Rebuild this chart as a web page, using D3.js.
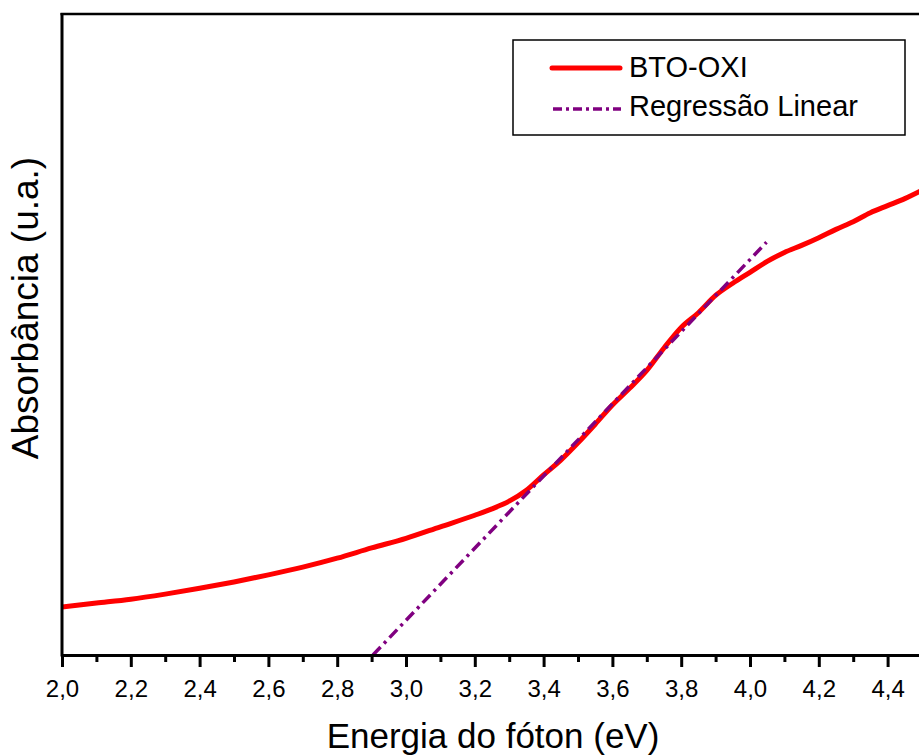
<!DOCTYPE html>
<html>
<head>
<meta charset="utf-8">
<script src="https://cdn.jsdelivr.net/npm/d3@7"></script>
<style>
  body { margin: 0; background: #fff; }
  svg { display: block; font-family: "Liberation Sans", Arial, sans-serif; }
</style>
</head>
<body>
<div id="chart"></div>
<script>
// photon energy (eV) and absorbance (a.u.)
var energy = [2.00, 2.10, 2.20, 2.30, 2.40, 2.50, 2.60, 2.70, 2.80, 2.90,
              3.00, 3.10, 3.20, 3.25, 3.30, 3.35, 3.40, 3.45, 3.50, 3.55,
              3.60, 3.65, 3.70, 3.75, 3.80, 3.85, 3.90, 3.95, 4.00, 4.05,
              4.10, 4.15, 4.20, 4.25, 4.30, 4.35, 4.40, 4.45, 4.50];
var absorb = [0.075, 0.081, 0.087, 0.095, 0.104, 0.114, 0.125, 0.137, 0.151, 0.167,
              0.182, 0.200, 0.218, 0.228, 0.240, 0.257, 0.281, 0.304, 0.331, 0.360,
              0.390, 0.416, 0.444, 0.479, 0.511, 0.534, 0.561, 0.580, 0.597, 0.614,
              0.628, 0.639, 0.651, 0.664, 0.676, 0.690, 0.701, 0.712, 0.725];

// linear fit endpoints
var fitX = [2.904, 4.048];
var fitY = [0.000, 0.644];

var xTicks = [2.0, 2.2, 2.4, 2.6, 2.8, 3.0, 3.2, 3.4, 3.6, 3.8, 4.0, 4.2, 4.4];
var xMinor = [2.1, 2.3, 2.5, 2.7, 2.9, 3.1, 3.3, 3.5, 3.7, 3.9, 4.1, 4.3];

var legendNames = ["BTO-OXI", "Regressão Linear"];

var W = 919, H = 756;
var margin = {top: 14, left: 62, bottom: 101};

var svg = d3.select("#chart").append("svg")
    .attr("width", W)
    .attr("height", H);

var x = d3.scaleLinear().domain([2.0, 4.5]).range([margin.left, 922]);
var y = d3.scaleLinear().domain([0, 1]).range([H - margin.bottom, margin.top]);

svg.append("clipPath").attr("id", "clip")
  .append("rect")
    .attr("x", x(2.0)).attr("y", y(1))
    .attr("width", x(4.5) - x(2.0)).attr("height", y(0) - y(1));

var plot = svg.append("g").attr("clip-path", "url(#clip)");

var pts = energy.map(function(e, i) { return [e, absorb[i]]; });
var line = d3.line()
    .x(function(d) { return x(d[0]); })
    .y(function(d) { return y(d[1]); })
    .curve(d3.curveMonotoneX);

plot.append("path")
    .datum(pts)
    .attr("fill", "none")
    .attr("stroke", "#ff0000")
    .attr("stroke-width", 5)
    .attr("stroke-linejoin", "round")
    .attr("d", line);

plot.append("path")
    .datum(fitX.map(function(e, i) { return [e, fitY[i]]; }))
    .attr("fill", "none")
    .attr("stroke", "#800080")
    .attr("stroke-width", 3.5)
    .attr("stroke-dasharray", "11,5,3,5")
    .attr("d", d3.line().x(function(d) { return x(d[0]); }).y(function(d) { return y(d[1]); }));

// x axis: minor then major
var fmt = function(d) { return d3.format(".1f")(d).replace(".", ","); };

svg.append("g")
    .attr("transform", "translate(0," + y(0) + ")")
    .call(d3.axisBottom(x).tickValues(xMinor).tickSize(7).tickFormat(""))
    .call(function(g) {
      g.select(".domain").remove();
      g.selectAll("line").attr("stroke", "#000").attr("stroke-width", 3);
    });

var xa = svg.append("g")
    .attr("transform", "translate(0," + y(0) + ")")
    .call(d3.axisBottom(x).tickValues(xTicks).tickSize(12).tickSizeOuter(0).tickFormat(fmt).tickPadding(13));
xa.select(".domain").attr("stroke", "#000").attr("stroke-width", 3);
xa.selectAll(".tick line").attr("stroke", "#000").attr("stroke-width", 3);
xa.selectAll(".tick text")
    .attr("fill", "#000")
    .style("font-size", "24px")
    .style("font-family", "'Liberation Sans', Arial, sans-serif");

// left axis and top frame
svg.append("line")
    .attr("x1", x(2.0)).attr("x2", x(2.0))
    .attr("y1", y(1) - 1).attr("y2", y(0) + 1.5)
    .attr("stroke", "#000").attr("stroke-width", 3);
svg.append("line")
    .attr("x1", x(2.0) - 1.5).attr("x2", x(4.5))
    .attr("y1", y(1)).attr("y2", y(1))
    .attr("stroke", "#000").attr("stroke-width", 2.5);

// axis titles
svg.append("text")
    .attr("x", 493).attr("y", 748)
    .attr("text-anchor", "middle")
    .style("font-size", "35px")
    .text("Energia do fóton (eV)");

svg.append("text")
    .attr("transform", "translate(38,308) rotate(-90)")
    .attr("text-anchor", "middle")
    .style("font-size", "37px")
    .text("Absorbância (u.a.)");

// legend
var lg = svg.append("g");
lg.append("rect")
    .attr("x", 513).attr("y", 40)
    .attr("width", 392).attr("height", 95)
    .attr("fill", "#fff")
    .attr("stroke", "#000").attr("stroke-width", 1.5);

lg.append("line")
    .attr("x1", 552).attr("x2", 620).attr("y1", 68).attr("y2", 68)
    .attr("stroke", "#ff0000").attr("stroke-width", 5).attr("stroke-linecap", "round");
lg.append("line")
    .attr("x1", 553).attr("x2", 621).attr("y1", 109).attr("y2", 109)
    .attr("stroke", "#800080").attr("stroke-width", 3.5)
    .attr("stroke-dasharray", "9,4,3,4");

lg.selectAll("text.lab")
    .data(legendNames)
    .enter().append("text")
    .attr("class", "lab")
    .attr("x", 629)
    .attr("y", function(d, i) { return i === 0 ? 77 : 116; })
    .style("font-size", "29px")
    .text(function(d) { return d; });
</script>
</body>
</html>
